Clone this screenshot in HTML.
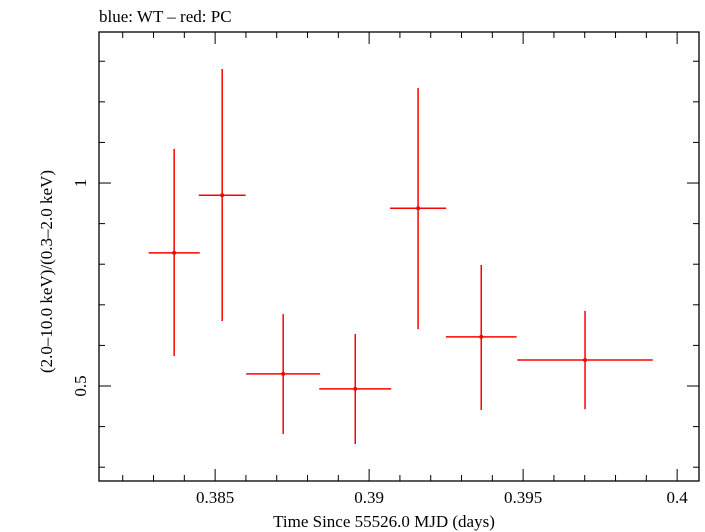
<!DOCTYPE html>
<html><head><meta charset="utf-8">
<style>body{margin:0;background:#fff}svg{display:block}text{font-family:"Liberation Serif",serif;fill:#000}</style>
</head><body>
<svg id="c" width="705" height="532"></svg>
<script>
const times=[0.38367,0.38523,0.38721,0.38955,0.39159,0.39364,0.39701];
const timeErr=[0.00083,0.00076,0.0012,0.00117,0.00091,0.00115,0.0022];
const ratios=[0.828,0.970,0.530,0.493,0.938,0.621,0.564];
const ratioHi=[1.084,1.281,0.677,0.628,1.234,0.798,0.685];
const ratioLo=[0.574,0.660,0.382,0.357,0.640,0.441,0.443];
const xTickLabels=["0.385","0.39","0.395","0.4"];
const yTickLabels=["0.5","1"];
const L=99,R=699,T=32,B=481,x0=0.38123,x1=0.40071,y0=0.266,y1=1.372;
const X=v=>L+(v-x0)/(x1-x0)*(R-L);
const Y=v=>B-(v-y0)/(y1-y0)*(B-T);
const svg=document.getElementById('c');const NS='http://www.w3.org/2000/svg';
function el(t,a,p){const e=document.createElementNS(NS,t);for(const k in a)e.setAttribute(k,a[k]);(p||svg).appendChild(e);return e;}
const ax=el('g',{});


const fr=el('rect',{x:L,y:T,width:R-L,height:B-T,fill:'none',stroke:'#000','stroke-width':1.3},ax);


for(let i=382;i<=400;i++){const v=i/1000,x=X(v),maj=i%5==0,len=maj?12:6;
 el('line',{x1:x,x2:x,y1:B,y2:B-len,stroke:'#000'},ax);el('line',{x1:x,x2:x,y1:T,y2:T+len,stroke:'#000'},ax);}
xTickLabels.forEach(s=>{const t=el('text',{x:X(parseFloat(s)),y:503,'font-size':17,'text-anchor':'middle'},ax);t.textContent=s;
 
 });
for(let i=3;i<=13;i++){const v=i/10,y=Y(v),maj=i==5||i==10,len=maj?12:6;
 el('line',{x1:L,x2:L+len,y1:y,y2:y,stroke:'#000'},ax);el('line',{x1:R,x2:R-len,y1:y,y2:y,stroke:'#000'},ax);}
yTickLabels.forEach(s=>{const y=Y(parseFloat(s));const t=el('text',{x:0,y:0,'font-size':17,'text-anchor':'middle',transform:`translate(86,${y}) rotate(-90)`},ax);t.textContent=s;
 
 });
const xt=el('text',{x:(L+R)/2-15,y:527,'font-size':17,'text-anchor':'middle'});xt.textContent='Time Since 55526.0 MJD (days)';


const yt=el('text',{x:0,y:0,'font-size':17,'text-anchor':'middle',transform:`translate(52,${(T+B)/2+15}) rotate(-90)`});yt.textContent='(2.0\u201310.0 keV)/(0.3\u20132.0 keV)';


const ti=el('text',{x:99,y:22,'font-size':17});ti.textContent='blue: WT \u2013 red: PC';


const g=el('g',{stroke:'#f00','stroke-width':1.5,fill:'#f00'});


times.forEach((t,i)=>{const p=el('g',{},g);
 
 
 el('line',{x1:X(t-timeErr[i]),x2:X(t+timeErr[i]),y1:Y(ratios[i]),y2:Y(ratios[i])},p);
 el('line',{x1:X(t),x2:X(t),y1:Y(ratioHi[i]),y2:Y(ratioLo[i])},p);
 el('circle',{cx:X(t),cy:Y(ratios[i]),r:2,stroke:'none'},p);});
</script>
</body></html>
